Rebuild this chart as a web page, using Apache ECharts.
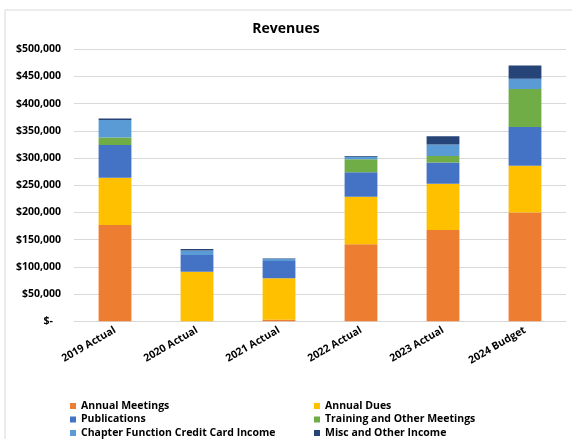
<!DOCTYPE html>
<html><head><meta charset="utf-8">
<script src="https://cdn.jsdelivr.net/npm/echarts@6/dist/echarts.min.js"></script>
<style>html,body{margin:0;padding:0;background:#fff}#c{width:572px;height:439px}</style>
</head><body><div id="c"></div>
<script>
const categories = ['2019 Actual','2020 Actual','2021 Actual','2022 Actual','2023 Actual','2024 Budget'];
const annualMeetings = [177000, 0, 3000, 141500, 168000, 200000];
const annualDues = [87000, 91000, 76000, 87500, 85000, 86000];
const publications = [60000, 31000, 32000, 45000, 39000, 71000];
const training = [14000, 0, 0, 24000, 12000, 70000];
const chapterCC = [32000, 8000, 3500, 4500, 21000, 19000];
const miscOther = [3000, 3000, 1000, 1500, 15000, 24000];
const seriesNames = ['Annual Meetings','Annual Dues','Publications','Training and Other Meetings','Chapter Function Credit Card Income','Misc and Other Income'];
const seriesData = [annualMeetings, annualDues, publications, training, chapterCC, miscOther];
const colors = ['#ED7D31','#FFC000','#4472C4','#70AD47','#5B9BD5','#264478'];

const font = '"Open Sans", "Liberation Sans", sans-serif';
const chart = echarts.init(document.getElementById('c'), null, {renderer:'canvas'});
const legendCommon = {
  orient:'vertical', top: 395, height: 60, itemWidth: 6, itemHeight: 6, itemGap: 1.5, icon:'rect',
  textStyle:{fontFamily:font, fontSize:10.5, lineHeight:12, fontWeight:'bold', color:'#000'}
};
chart.setOption({
  animation:false,
  color: colors,
  title:{text:'Revenues', left:'center', top:17, textStyle:{fontFamily:font, fontSize:14, fontWeight:'bold', color:'#000'}},
  graphic:[{type:'rect', shape:{x:5, y:10, width:600, height:500}, style:{fill:'none', stroke:'#d9d9d9', lineWidth:1}, silent:true}],
  legend:[
    Object.assign({left:65, data:[seriesNames[0], seriesNames[2], seriesNames[4]]}, legendCommon),
    Object.assign({left:309, data:[seriesNames[1], seriesNames[3], seriesNames[5]]}, legendCommon)
  ],
  grid:{left:74, right:6, top:49.3, bottom:117.7},
  xAxis:{type:'category', data:categories,
    axisLine:{lineStyle:{color:'#d9d9d9'}}, axisTick:{show:false},
    axisLabel:{rotate:30, margin:8, fontFamily:font, fontSize:10.5, fontWeight:'bold', color:'#000', interval:0}},
  yAxis:{type:'value', min:0, max:500000, interval:50000,
    axisLine:{show:false}, axisTick:{show:false},
    splitLine:{lineStyle:{color:'#d9d9d9'}},
    axisLabel:{margin:13, fontFamily:font, fontSize:10.5, fontWeight:'bold', color:'#000',
      formatter: v => v === 0 ? '$-   ' : '$' + v.toLocaleString('en-US')}},
  series: seriesNames.map((n,i)=>({name:n, type:'bar', stack:'total', barWidth:'40%', data:seriesData[i]}))
});
</script></body></html>
